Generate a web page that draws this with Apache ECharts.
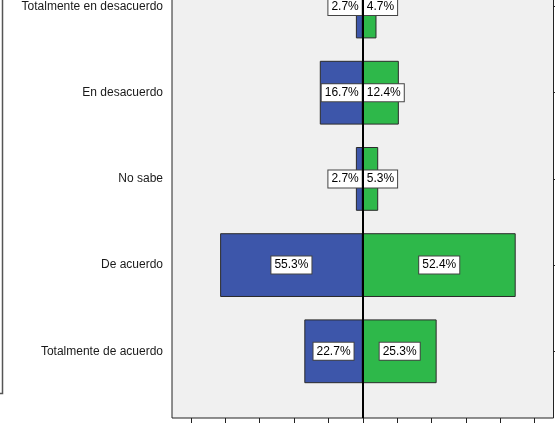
<!DOCTYPE html>
<html>
<head>
<meta charset="utf-8">
<script src="https://cdn.jsdelivr.net/npm/echarts@6/dist/echarts.min.js"></script>
<style>
html,body{margin:0;padding:0;background:#fff;}
#chart{width:555px;height:423px;}
</style>
</head>
<body>
<div id="chart"></div>
<script>
const categories = ['Totalmente en desacuerdo', 'En desacuerdo', 'No sabe', 'De acuerdo', 'Totalmente de acuerdo'];
const blueCounts = [4, 25, 4, 83, 34];
const greenCounts = [8, 21, 9, 89, 43];
const bluePct = ['2.7%', '16.7%', '2.7%', '55.3%', '22.7%'];
const greenPct = ['4.7%', '12.4%', '5.3%', '52.4%', '25.3%'];
const xTickValues = [-100, -80, -60, -40, -20, 0, 20, 40, 60, 80, 100];
const xMin = -111, xMax = 111;

const chart = echarts.init(document.getElementById('chart'), null, {renderer: 'canvas'});
const FONT = 'Arial, "Liberation Sans", sans-serif';
const labelBox = {
  show: true,
  fontFamily: FONT,
  fontSize: 12,
  lineHeight: 14,
  color: '#000',
  backgroundColor: '#ffffff',
  borderColor: '#444',
  borderWidth: 1,
  padding: [2, 3, 1, 3]
};
const pxPerUnit = 381.5 / (xMax - xMin);
function makeData(counts, pcts, sign) {
  return counts.map((c, i) => {
    const fits = c * pxPerUnit >= 44;
    return {
      value: sign * c,
      label: Object.assign({}, labelBox, {
        formatter: pcts[i],
        position: fits ? 'inside' : (sign < 0 ? 'insideRight' : 'insideLeft'),
        distance: 1
      })
    };
  });
}

const option = {
  animation: false,
  backgroundColor: '#ffffff',
  grid: [
    {left: 172, right: 1.5, top: -20, bottom: 5, show: true, backgroundColor: '#F0F0F0', borderColor: '#222', borderWidth: 1, containLabel: false, outerBoundsMode: 'none'},
    {left: 172, right: 1.5, top: -36.6, bottom: 28.6, containLabel: false, outerBoundsMode: 'none'}
  ],
  xAxis: [
    {gridIndex: 0, type: 'value', min: xMin, max: xMax, splitLine: {show: false},
     axisLine: {show: false}, axisLabel: {show: false},
     axisTick: {show: true, length: 6, customValues: xTickValues, lineStyle: {color: '#222', width: 1}}},
    {gridIndex: 1, type: 'value', min: xMin, max: xMax, show: false}
  ],
  yAxis: [
    {gridIndex: 0, type: 'value', min: 0, max: 1, show: false},
    {gridIndex: 1, type: 'category', data: categories, inverse: true, position: 'left',
     axisLine: {show: false},
     axisTick: {show: true, alignWithLabel: true, length: 7, lineStyle: {color: '#222', width: 1}},
     axisLabel: {margin: 9, fontFamily: FONT, fontSize: 12, color: '#1a1a1a'}},
    {gridIndex: 1, type: 'category', data: categories, inverse: true, position: 'right',
     axisLine: {show: false}, axisLabel: {show: false},
     axisTick: {show: true, alignWithLabel: true, length: 3, lineStyle: {color: '#222', width: 1}}}
  ],
  series: [
    {type: 'bar', xAxisIndex: 1, yAxisIndex: 1, data: makeData(blueCounts, bluePct, -1),
     barWidth: '74%', barGap: '-100%',
     itemStyle: {color: '#3D56AA', borderColor: '#2a2a2a', borderWidth: 1}, z: 3},
    {type: 'bar', xAxisIndex: 1, yAxisIndex: 1, data: makeData(greenCounts, greenPct, 1),
     barWidth: '74%', barGap: '-100%',
     itemStyle: {color: '#2EB84A', borderColor: '#2a2a2a', borderWidth: 1}, z: 3},
    {type: 'line', xAxisIndex: 0, yAxisIndex: 0, data: [], z: 4,
     markLine: {silent: true, symbol: 'none', label: {show: false},
       lineStyle: {color: '#000', width: 2, type: 'solid'},
       data: [{xAxis: 0}]}}
  ],
  graphic: [
    {type: 'polyline', shape: {points: [[2.5, 0], [2.5, 393.5], [0, 393.5]]},
     style: {stroke: '#555', lineWidth: 1.5, fill: null}, silent: true}
  ]
};
chart.setOption(option);
</script>
</body>
</html>
